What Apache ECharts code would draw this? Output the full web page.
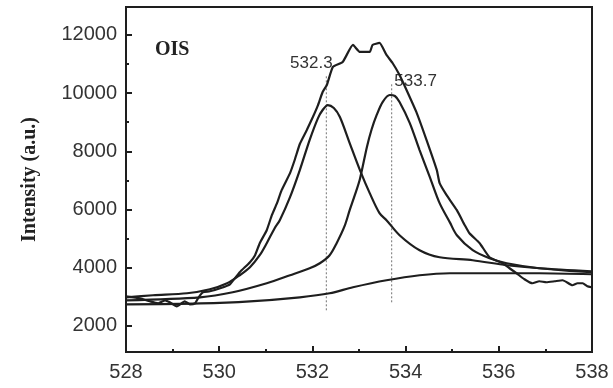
<!DOCTYPE html>
<html><head><meta charset="utf-8">
<script src="https://cdn.jsdelivr.net/npm/echarts@6/dist/echarts.min.js"></script>
<style>html,body{margin:0;padding:0;background:#fff}#c{width:613px;height:388px}</style>
</head><body><div id="c"></div>
<script>
// Raw O1s spectrum
const rawX = [528.00,528.30,528.51,528.69,528.84,528.94,529.09,529.26,529.37,529.48,529.56,529.65,529.80,530.02,530.23,530.44,530.66,530.77,530.87,531.02,531.13,531.24,531.34,531.52,531.62,531.73,531.88,532.01,532.12,532.22,532.31,532.44,532.65,532.87,533.02,533.23,533.29,533.44,533.59,533.72,533.87,534.02,534.24,534.45,534.67,534.73,534.88,535.10,535.27,535.37,535.59,535.80,536.08,536.23,536.38,536.55,536.72,536.87,537.02,537.20,537.37,537.58,537.69,537.80,537.90,537.99];
const rawY = [3015,2947,2843,2774,2878,2809,2671,2843,2740,2774,2981,3153,3187,3291,3428,3841,4186,4427,4840,5287,5803,6217,6664,7250,7700,8250,8730,9177,9590,10038,10279,10898,11070,11655,11414,11414,11655,11724,11311,11035,10622,10106,9314,8385,7353,6905,6492,5976,5459,5184,4840,4358,4151,3979,3807,3601,3463,3532,3497,3532,3566,3394,3463,3463,3360,3325];
// Component 1 (532.3 eV) incl. background
const p1X = [528.00,528.58,529.31,529.80,530.17,530.44,530.66,530.87,531.02,531.19,531.30,531.52,531.73,531.94,532.12,532.22,532.33,532.46,532.59,532.80,533.02,533.23,533.44,533.59,533.87,534.30,534.73,535.44,536.17,536.87,537.99];
const p1Y = [2981,3050,3119,3256,3463,3738,4014,4427,4840,5356,5631,6423,7353,8385,9142,9418,9590,9487,9177,8282,7353,6561,5872,5631,5115,4599,4358,4255,4083,3979,3876];
// Component 2 (533.7 eV) incl. background
const p2X = [528.00,529.59,530.29,531.02,531.52,531.94,532.16,532.37,532.52,532.69,532.80,532.91,533.02,533.17,533.27,533.38,533.51,533.66,533.77,533.87,534.09,534.30,534.52,534.73,534.95,535.10,535.44,535.80,536.17,536.87,537.99];
const p2Y = [2878,2981,3153,3463,3738,3979,4151,4427,4840,5425,5976,6492,7050,8150,8750,9250,9700,9935,9900,9693,8970,8041,7112,6217,5556,5115,4599,4323,4151,3979,3841];
// Background
const bgX = [528.00,529.59,530.66,531.73,532.37,532.87,533.59,534.30,534.95,535.80,536.87,537.99];
const bgY = [2740,2774,2843,2981,3119,3325,3566,3738,3807,3807,3807,3773];
// Peak markers
const peakPos = [532.3, 533.7];
const peakTop = [10588, 10313];
const peakBottom = [2534, 2809];
// Axis ticks
const yMajor = [2000,4000,6000,8000,10000,12000];
const yMinor = [3000,5000,7000,9000,11000];

const zip = (a,b)=>a.map((v,i)=>[v,b[i]]);
const ink = '#1e1e1e';
const curve = (name, xs, ys, smooth)=>({
  name, type:'line', data: zip(xs,ys), showSymbol:false, smooth,
  lineStyle:{color:ink, width:2.2}, z:3, silent:true
});
const marker = (i, offset)=>({
  type:'line', showSymbol:true, symbolSize:0, silent:true, z:2,
  data:[{value:[peakPos[i], peakBottom[i]], label:{show:false}},
        {value:[peakPos[i], peakTop[i]], label:{show:true, position:'top', distance:3, offset, formatter: String(peakPos[i]), fontSize:17, color:'#333', fontFamily:'Liberation Sans'}}],
  lineStyle:{color:'#8a8a8a', width:1.2, type:[2,2]}
});

const chart = echarts.init(document.getElementById('c'), null, {renderer:'canvas'});
chart.setOption({
  animation:false,
  backgroundColor:'#fff',
  grid:{left:126, right:21, top:7, bottom:36, show:true, borderColor:ink, borderWidth:2},
  xAxis:{type:'value', min:528, max:538, interval:2,
    axisLine:{show:true, lineStyle:{color:ink, width:2}},
    axisTick:{inside:true, length:6, lineStyle:{color:ink, width:2}},
    minorTick:{show:true, splitNumber:2, length:3, lineStyle:{color:ink, width:2}},
    axisLabel:{fontSize:20, color:'#333', fontFamily:'Liberation Sans', margin:10},
    splitLine:{show:false}, minorSplitLine:{show:false}},
  yAxis:[{type:'value', min:1100, max:12960,
    axisLine:{show:true, lineStyle:{color:ink, width:2}},
    axisTick:{inside:true, length:6, customValues:yMajor, lineStyle:{color:ink, width:2}},
    axisLabel:{customValues:yMajor, fontSize:20, color:'#333', fontFamily:'Liberation Sans', margin:9, formatter:(v)=>String(v)},
    splitLine:{show:false},
    name:'Intensity (a.u.)', nameLocation:'middle', nameGap:86,
    nameTextStyle:{fontSize:20, fontWeight:'bold', fontFamily:'Liberation Serif', color:'#222'}
  },{type:'value', min:1100, max:12960, position:'left',
    axisLine:{show:false},
    axisTick:{inside:true, length:3, customValues:yMinor, lineStyle:{color:ink, width:2}},
    axisLabel:{show:false}, splitLine:{show:false}}],
  graphic:[{type:'text', left:155, top:40, style:{text:'OIS', font:'bold 20px "Liberation Serif"', fill:'#222'}}],
  series:[
    marker(0, [-15,-1]),
    marker(1, [24,9]),
    curve('bg', bgX, bgY, 0.3),
    curve('p1', p1X, p1Y, 0.3),
    curve('p2', p2X, p2Y, 0.3),
    curve('raw', rawX, rawY, 0.15)
  ]
});
</script></body></html>
